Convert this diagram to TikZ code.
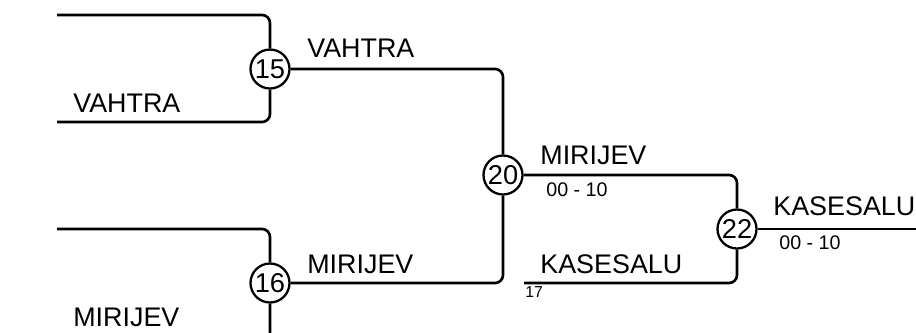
\documentclass[tikz,border=0pt]{standalone}
\usepackage{fontspec}
\setmainfont{Liberation Sans}
\begin{document}
\begin{tikzpicture}[x=0.02cm,y=-0.02cm,
	bracket/.style={line width=1.5pt,rounded corners=4.5pt},
	match/.style={draw,circle,line width=1.3pt,minimum size=0.78cm,inner sep=0pt,fill=white,font=\fontsize{15.5}{15}\selectfont},
	player/.style={anchor=base west,inner sep=0pt,font=\fontsize{15.3}{15}\selectfont},
	score/.style={anchor=base west,inner sep=0pt,font=\fontsize{11.2}{11}\selectfont},
	seed/.style={anchor=base west,inner sep=0pt,font=\fontsize{9}{9}\selectfont}]
	\useasboundingbox (0,0) rectangle (916,332);
	% free ends
	\coordinate (t15) at (57,15);
	\coordinate (b15) at (57,122);
	\coordinate (t16) at (57,229);
	\coordinate (b16) at (57,340);
	\coordinate (e22) at (524,283);
	\coordinate (r22) at (916,229);
	% matches
	\node [match] (m15) at (270,69) {15};
	\node [match] (m16) at (270,283) {16};
	\node [match] (m20) at (503,175) {20};
	\node [match] (m22) at (737,229) {22};
	% brackets
	\draw [bracket] (t15) -| (m15);
	\draw [bracket] (b15) -| (m15);
	\draw [bracket] (t16) -| (m16);
	\draw [bracket] (b16) -| (m16);
	\draw [bracket] (m15) -| (m20);
	\draw [bracket] (m16) -| (m20);
	\draw [bracket] (m20) -| (m22);
	\draw [bracket] (e22) -| (m22);
	\draw [bracket] (m22) -- (r22);
	% names
	\node [player] (n15b) at (73,112) {VAHTRA};
	\node [player] (n15) at (307,57) {VAHTRA};
	\node [player] (n16b) at (73,326) {MIRIJEV};
	\node [player] (n16) at (307,273) {MIRIJEV};
	\node [player] (n20) at (540,164) {MIRIJEV};
	\node [player] (n17) at (540,273) {KASESALU};
	\node [player] (n22) at (773,215) {KASESALU};
	\node [score] (s20) at (546,196) {00 - 10};
	\node [score] (s22) at (779,249) {00 - 10};
	\node [seed] (k17) at (525,297) {17};
\end{tikzpicture}
\end{document}
